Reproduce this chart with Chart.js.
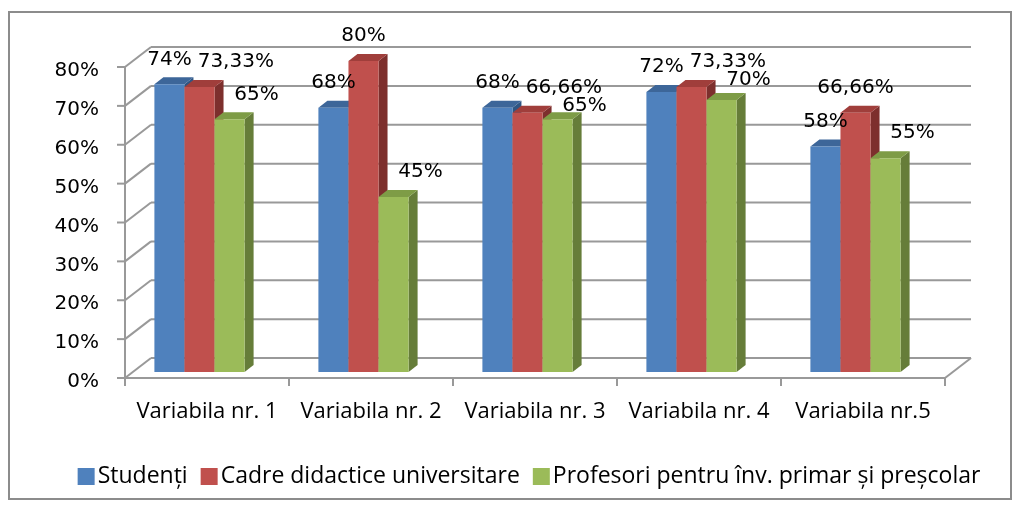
<!DOCTYPE html>
<html lang="ro">
<head>
<meta charset="UTF-8">
<title>Variabile</title>
<script src="https://cdn.jsdelivr.net/npm/chart.js"></script>
<style>
  html, body { margin: 0; padding: 0; background: #fff; }
</style>
</head>
<body>
<canvas id="chart" width="1020" height="508"></canvas>
<script>
  // date (procente)
  var categories = ['Variabila nr. 1', 'Variabila nr. 2', 'Variabila nr. 3', 'Variabila nr. 4', 'Variabila nr.5'];
  var studenti = [74, 68, 68, 72, 58];
  var cadre = [73.33, 80, 66.66, 73.33, 66.66];
  var profesori = [65, 45, 65, 70, 55];
  var seriesNames = ['Studenți', 'Cadre didactice universitare', 'Profesori pentru înv. primar şi preşcolar'];
  var yMax = 80;
  var yStep = 10;

  // culori: fata, capac, lateral
  var faceColors = ['#4F81BD', '#C0504D', '#9BBB59'];
  var capColors = ['#3D6699', '#A03E3B', '#7E9C46'];
  var sideColors = ['#2E5583', '#7D2F2D', '#667D39'];

  // efect 3D
  var SHIFT_X = -7.5, SHIFT_Y = -6;   // pozitia barelor in adancime
  var DEPTH_X = 9, DEPTH_Y = -7;      // adancimea barelor
  var WALL_X = 26, WALL_Y = -20;      // peretele din spate
  var labelShift = [0, 0, 27];        // deplasarea etichetelor pe serie
  var labelAvoid = ['right', 'right', 'down'];

  function line(ctx, x1, y1, x2, y2) {
    ctx.beginPath();
    ctx.moveTo(x1, y1);
    ctx.lineTo(x2, y2);
    ctx.stroke();
  }

  function poly(ctx, pts, color) {
    ctx.beginPath();
    ctx.moveTo(pts[0][0], pts[0][1]);
    for (var i = 1; i < pts.length; i++) ctx.lineTo(pts[i][0], pts[i][1]);
    ctx.closePath();
    ctx.fillStyle = color;
    ctx.fill();
  }

  function fmt(v) {
    return String(v).replace('.', ',') + '%';
  }

  var chart3d = {
    id: 'chart3d',
    beforeDatasetsDraw: function(chart) {
      var ctx = chart.ctx, a = chart.chartArea;
      var xs = chart.scales.x, ys = chart.scales.y;
      ctx.save();
      ctx.strokeStyle = '#999';
      ctx.lineWidth = 2;
      // pereti si linii de grila
      ys.ticks.forEach(function(t) {
        var py = ys.getPixelForValue(t.value);
        line(ctx, a.left, py, a.left + WALL_X, py + WALL_Y);
        line(ctx, a.left + WALL_X, py + WALL_Y, a.right + WALL_X, py + WALL_Y);
        line(ctx, a.left - 8, py, a.left, py);
      });
      line(ctx, a.left, a.top, a.left, a.bottom);
      // podea
      line(ctx, a.right, a.bottom, a.right + WALL_X, a.bottom + WALL_Y);
      line(ctx, a.left, a.bottom, a.right, a.bottom);
      for (var i = 0; i <= categories.length; i++) {
        var px = xs.getPixelForValue(i - 0.5);
        line(ctx, px, a.bottom, px, a.bottom + 8);
      }
      // bare, de la stanga la dreapta
      var metas = chart.data.datasets.map(function(d, k) { return chart.getDatasetMeta(k); });
      for (var j = 0; j < categories.length; j++) {
        for (var s = 0; s < metas.length; s++) {
          var bar = metas[s].data[j];
          var p = bar.getProps(['x', 'y', 'base', 'width'], true);
          var l = p.x - p.width / 2 + SHIFT_X, r = p.x + p.width / 2 + SHIFT_X;
          var t = p.y + SHIFT_Y, b = p.base + SHIFT_Y;
          poly(ctx, [[r, t], [r + DEPTH_X, t + DEPTH_Y], [r + DEPTH_X, b + DEPTH_Y], [r, b]], sideColors[s]);
          poly(ctx, [[l, t], [l + DEPTH_X, t + DEPTH_Y], [r + DEPTH_X, t + DEPTH_Y], [r, t]], capColors[s]);
          ctx.save();
          ctx.translate(SHIFT_X, SHIFT_Y);
          bar.draw(ctx);
          ctx.restore();
        }
      }
      ctx.restore();
      return false;
    },
    afterDraw: function(chart) {
      var ctx = chart.ctx;
      ctx.save();
      // chenar
      ctx.strokeStyle = '#8c8c8c';
      ctx.lineWidth = 2;
      ctx.strokeRect(9, 12, 1002, 487);

      // etichete de date
      ctx.font = '20px "DejaVu Sans"';
      ctx.fillStyle = '#000';
      ctx.textAlign = 'center';
      ctx.textBaseline = 'middle';
      var h = 16;
      for (var j = 0; j < categories.length; j++) {
        var placed = [];
        chart.data.datasets.forEach(function(ds, s) {
          var bar = chart.getDatasetMeta(s).data[j];
          var txt = fmt(ds.data[j]);
          var w = ctx.measureText(txt).width;
          var cx = bar.x + SHIFT_X + labelShift[s];
          var cy = bar.y + SHIFT_Y - 25;
          placed.forEach(function(o) {
            var hit = cx - w / 2 < o.r && cx + w / 2 > o.l && cy - h / 2 < o.b && cy + h / 2 > o.t;
            if (!hit) return;
            if (labelAvoid[s] === 'down') cy = o.b + 2 + h / 2;
            else cx = o.r + 6 + w / 2;
          });
          ctx.fillText(txt, cx, cy);
          placed.push({ l: cx - w / 2, r: cx + w / 2, t: cy - h / 2, b: cy + h / 2 });
        });
      }

      // legenda
      ctx.font = '23px "Open Sans"';
      ctx.textAlign = 'left';
      ctx.textBaseline = 'alphabetic';
      var box = 17, gapBT = 3, gapItem = 13;
      var items = chart.data.datasets.map(function(d) {
        return { label: d.label, color: d.backgroundColor, w: ctx.measureText(d.label).width };
      });
      var total = 0;
      items.forEach(function(it, i) { total += box + gapBT + it.w + (i ? gapItem : 0); });
      var x = 529 - total / 2;
      items.forEach(function(it) {
        ctx.fillStyle = it.color;
        ctx.fillRect(x, 468, box, box);
        ctx.fillStyle = '#000';
        ctx.fillText(it.label, x + box + gapBT, 483);
        x += box + gapBT + it.w + gapItem;
      });
      ctx.restore();
    }
  };

  var ctx = document.getElementById('chart').getContext('2d');
  new Chart(ctx, {
    type: 'bar',
    data: {
      labels: categories,
      datasets: [
        { label: seriesNames[0], data: studenti, backgroundColor: faceColors[0] },
        { label: seriesNames[1], data: cadre, backgroundColor: faceColors[1] },
        { label: seriesNames[2], data: profesori, backgroundColor: faceColors[2] }
      ]
    },
    options: {
      responsive: false,
      animation: false,
      categoryPercentage: 0.55,
      barPercentage: 1,
      borderWidth: 0,
      layout: { padding: { left: 0, right: 75, top: 67, bottom: 88 } },
      plugins: { legend: { display: false }, tooltip: { enabled: false } },
      scales: {
        x: {
          grid: { display: false, drawTicks: false },
          border: { display: false },
          ticks: { font: { family: 'Open Sans', size: 22 }, color: '#000', padding: 21, maxRotation: 0, autoSkip: false },
          afterFit: function(s) { s.height = 42; }
        },
        y: {
          min: 0,
          max: yMax,
          grid: { display: false, drawTicks: false },
          border: { display: false },
          ticks: {
            stepSize: yStep,
            callback: function(v) { return v + '%'; },
            font: { family: 'DejaVu Sans', size: 20 },
            color: '#000',
            padding: 26,
            labelOffset: 4
          },
          afterFit: function(s) { s.width = 125; }
        }
      }
    },
    plugins: [chart3d]
  });
</script>
</body>
</html>
